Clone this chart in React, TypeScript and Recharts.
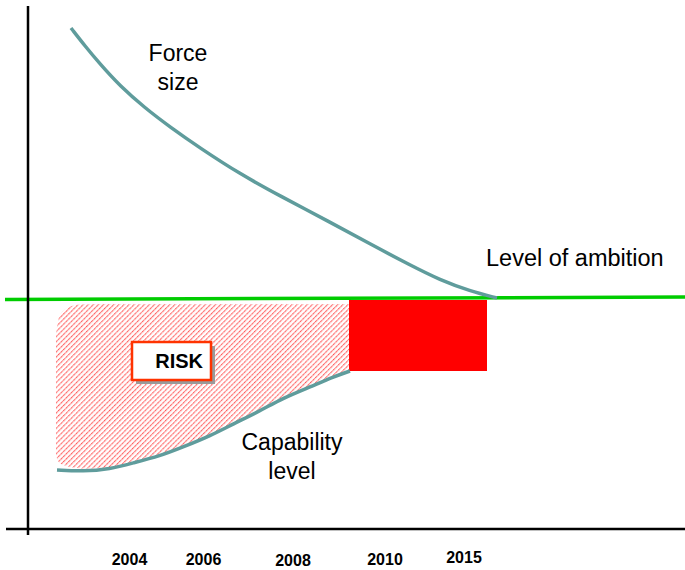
import { ComposedChart, XAxis, YAxis, Line, Area, ReferenceLine, ReferenceArea, ReferenceDot } from "recharts";

// time axis labels and where they sit along the x scale
const years = ["2004", "2006", "2008", "2010", "2015"];
const yearTicks = [101.5, 175.5, 265, 357, 436];

// "Force size" curve
const forceX = [43, 57, 72, 92, 117, 142, 172, 212, 252, 302, 342, 382, 412, 442, 469];
const forceY = [501, 483, 465, 443, 421, 402, 381, 355, 333, 307, 285, 264, 249, 238, 231];

// "Capability level" curve
const capabilityX = [29, 55, 82, 105, 132, 155, 182, 205, 232, 255, 282, 305, 322];
const capabilityY = [59, 57.5, 60, 66, 73, 82, 93, 105, 118, 131, 142, 152, 158];

// "Level of ambition" line
const ambitionX = [-23, 657];
const ambitionY = [229.5, 232];

// hatched risk zone (between capability and ambition)
const riskX = [28, 30, 34, 42, 52, 82, 105, 132, 155, 182, 205, 232, 255, 282, 305, 321];
const riskLow = [74, 67, 64, 62, 60, 61, 67, 74, 83, 94, 106, 119, 132, 143, 153, 158];
const riskHigh = [194, 211, 218, 223, 225, 225, 225, 225, 225, 225, 225, 225, 225, 225, 225, 225];

// solid gap block and the RISK tag
const gapX = [321, 459];
const gapY = [158, 229];
const riskTagX = [104, 183];
const riskTagY = [149, 187];

const FONT = "'Liberation Sans', Arial, Helvetica, sans-serif";
const TEAL = "#5f9c9c";

const forceData = forceX.map((x, i) => ({ x, y: forceY[i] }));
const capabilityData = capabilityX.map((x, i) => ({ x, y: capabilityY[i] }));
const ambitionData = ambitionX.map((x, i) => ({ x, y: ambitionY[i] }));
const riskData = riskX.map((x, i) => ({ x, range: [riskLow[i], riskHigh[i]] }));

const tickShift = [0, 0, 1, 0, -2];

function YearTick(props: any) {
   const { x, y, payload } = props;
   const i = yearTicks.indexOf(payload.value);
   return (
      <text x={x} y={y + 3 + (tickShift[i] || 0)} textAnchor="middle" fontFamily={FONT} fontWeight="bold" fontSize={16} fill="#000">
         {years[i]}
      </text>
   );
}

function Caption(props: any) {
   const { viewBox, lines, anchor, size = 23 } = props;
   return (
      <text x={viewBox.x} y={viewBox.y} textAnchor={anchor} fontFamily={FONT} fontSize={size} fill="#000">
         {lines.map((l: string, i: number) => (
            <tspan key={l} x={viewBox.x} dy={i === 0 ? 0 : 29}>{l}</tspan>
         ))}
      </text>
   );
}

export default function App() {
   return (
      <div style={{ position: "absolute", left: 0, top: 0, width: 685, height: 570, background: "#fff" }}>
         <ComposedChart width={685} height={570} margin={{ top: 0, right: 0, bottom: 0, left: 0 }}>
            <defs>
               <pattern id="riskHatch" patternUnits="userSpaceOnUse" width="3.6" height="3.6" patternTransform="rotate(45)">
                  <line x1="0.6" y1="0" x2="0.6" y2="3.6" stroke="#ff4a4a" strokeWidth="1.1" strokeDasharray="1.4 0.6" />
               </pattern>
            </defs>
            <XAxis
               type="number"
               dataKey="x"
               domain={[-28, 657]}
               allowDataOverflow
               mirror
               axisLine={false}
               tickLine={false}
               ticks={yearTicks}
               interval={0}
               tick={<YearTick />}
            />
            <YAxis type="number" domain={[-41, 529]} allowDataOverflow hide />

            <Area data={riskData} dataKey="range" type="basis" stroke="none" fill="url(#riskHatch)" fillOpacity={1} isAnimationActive={false} />
            <ReferenceArea x1={gapX[0]} x2={gapX[1]} y1={gapY[0]} y2={gapY[1]} fill="#ff0000" fillOpacity={1} stroke="none" zIndex={150} />

            <Line data={ambitionData} dataKey="y" type="linear" stroke="#00cc00" strokeWidth={3.5} dot={false} activeDot={false} isAnimationActive={false} />
            <Line data={forceData} dataKey="y" type="basis" stroke={TEAL} strokeWidth={3.5} dot={false} activeDot={false} isAnimationActive={false} />
            <Line data={capabilityData} dataKey="y" type="basis" stroke={TEAL} strokeWidth={3.5} dot={false} activeDot={false} isAnimationActive={false} />

            <ReferenceArea x1={riskTagX[0] + 4} x2={riskTagX[1] + 4} y1={riskTagY[0] - 4} y2={riskTagY[1] - 4} fill="#9a9a9a" fillOpacity={1} stroke="none" zIndex={450} />
            <ReferenceArea
               x1={riskTagX[0]}
               x2={riskTagX[1]}
               y1={riskTagY[0]}
               y2={riskTagY[1]}
               fill="#ffffff"
               fillOpacity={1}
               stroke="#ff3300"
               strokeWidth={2.5}
               zIndex={460}
               label={{ value: "RISK", position: "insideRight", offset: 8, fontFamily: FONT, fontWeight: "bold", fontSize: 20, fill: "#000" }}
            />

            <ReferenceLine segment={[{ x: 0, y: -6 }, { x: 0, y: 523 }]} stroke="#000" strokeWidth={2.5} />
            <ReferenceLine segment={[{ x: -22, y: 0 }, { x: 657, y: 0 }]} stroke="#000" strokeWidth={2.5} />

            <ReferenceDot x={150} y={468} r={0} fill="none" stroke="none" label={<Caption lines={["Force", "size"]} anchor="middle" />} />
            <ReferenceDot x={458} y={263} r={0} fill="none" stroke="none" label={<Caption lines={["Level of ambition"]} anchor="start" size={23.5} />} />
            <ReferenceDot x={264} y={79} r={0} fill="none" stroke="none" label={<Caption lines={["Capability", "level"]} anchor="middle" />} />
         </ComposedChart>
      </div>
   );
}
